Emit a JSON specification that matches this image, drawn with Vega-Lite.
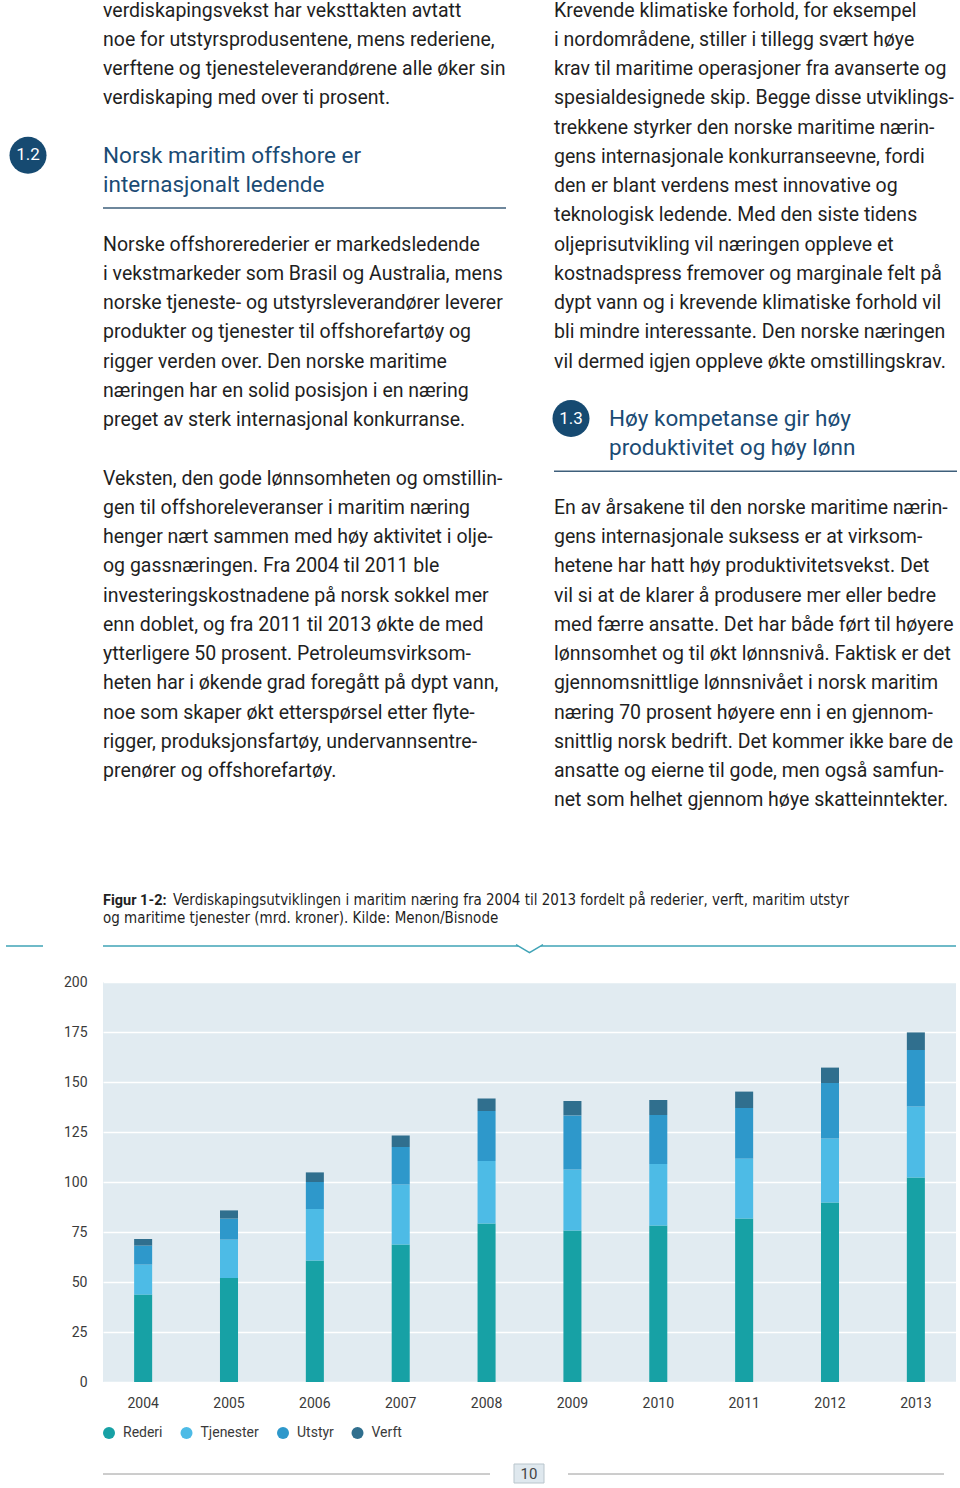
{
  "$schema": "https://vega.github.io/schema/vega-lite/v6.json",
  "background": "white",
  "padding": {"left": 5, "top": 0, "right": 0, "bottom": 0},
  "spacing": 14,
  "resolve": {"legend": {"color": "independent"}},
  "config": {"view": {"stroke": null}, "font": "Roboto"},
  "datasets": {
    "body": [
      {"col": "left", "line": 0, "text": "verdiskapingsvekst har veksttakten avtatt"},
      {"col": "left", "line": 1, "text": "noe for utstyrsprodusentene, mens rederiene,"},
      {"col": "left", "line": 2, "text": "verftene og tjenesteleverandørene alle øker sin"},
      {"col": "left", "line": 3, "text": "verdiskaping med over ti prosent."},
      {"col": "left", "line": 8, "text": "Norske offshorerederier er markedsledende"},
      {"col": "left", "line": 9, "text": "i vekstmarkeder som Brasil og Australia, mens"},
      {"col": "left", "line": 10, "text": "norske tjeneste- og utstyrsleverandører leverer"},
      {"col": "left", "line": 11, "text": "produkter og tjenester til offshorefartøy og"},
      {"col": "left", "line": 12, "text": "rigger verden over. Den norske maritime"},
      {"col": "left", "line": 13, "text": "næringen har en solid posisjon i en næring"},
      {"col": "left", "line": 14, "text": "preget av sterk internasjonal konkurranse."},
      {"col": "left", "line": 16, "text": "Veksten, den gode lønnsomheten og omstillin-"},
      {"col": "left", "line": 17, "text": "gen til offshoreleveranser i maritim næring"},
      {"col": "left", "line": 18, "text": "henger nært sammen med høy aktivitet i olje-"},
      {"col": "left", "line": 19, "text": "og gassnæringen. Fra 2004 til 2011 ble"},
      {"col": "left", "line": 20, "text": "investeringskostnadene på norsk sokkel mer"},
      {"col": "left", "line": 21, "text": "enn doblet, og fra 2011 til 2013 økte de med"},
      {"col": "left", "line": 22, "text": "ytterligere 50 prosent. Petroleumsvirksom-"},
      {"col": "left", "line": 23, "text": "heten har i økende grad foregått på dypt vann,"},
      {"col": "left", "line": 24, "text": "noe som skaper økt etterspørsel etter flyte-"},
      {"col": "left", "line": 25, "text": "rigger, produksjonsfartøy, undervannsentre-"},
      {"col": "left", "line": 26, "text": "prenører og offshorefartøy."},
      {"col": "right", "line": 0, "text": "Krevende klimatiske forhold, for eksempel"},
      {"col": "right", "line": 1, "text": "i nordområdene, stiller i tillegg svært høye"},
      {"col": "right", "line": 2, "text": "krav til maritime operasjoner fra avanserte og"},
      {"col": "right", "line": 3, "text": "spesialdesignede skip. Begge disse utviklings-"},
      {"col": "right", "line": 4, "text": "trekkene styrker den norske maritime nærin-"},
      {"col": "right", "line": 5, "text": "gens internasjonale konkurranseevne, fordi"},
      {"col": "right", "line": 6, "text": "den er blant verdens mest innovative og"},
      {"col": "right", "line": 7, "text": "teknologisk ledende. Med den siste tidens"},
      {"col": "right", "line": 8, "text": "oljeprisutvikling vil næringen oppleve et"},
      {"col": "right", "line": 9, "text": "kostnadspress fremover og marginale felt på"},
      {"col": "right", "line": 10, "text": "dypt vann og i krevende klimatiske forhold vil"},
      {"col": "right", "line": 11, "text": "bli mindre interessante. Den norske næringen"},
      {"col": "right", "line": 12, "text": "vil dermed igjen oppleve økte omstillingskrav."},
      {"col": "right", "line": 17, "text": "En av årsakene til den norske maritime nærin-"},
      {"col": "right", "line": 18, "text": "gens internasjonale suksess er at virksom-"},
      {"col": "right", "line": 19, "text": "hetene har hatt høy produktivitetsvekst. Det"},
      {"col": "right", "line": 20, "text": "vil si at de klarer å produsere mer eller bedre"},
      {"col": "right", "line": 21, "text": "med færre ansatte. Det har både ført til høyere"},
      {"col": "right", "line": 22, "text": "lønnsomhet og til økt lønnsnivå. Faktisk er det"},
      {"col": "right", "line": 23, "text": "gjennomsnittlige lønnsnivået i norsk maritim"},
      {"col": "right", "line": 24, "text": "næring 70 prosent høyere enn i en gjennom-"},
      {"col": "right", "line": 25, "text": "snittlig norsk bedrift. Det kommer ikke bare de"},
      {"col": "right", "line": 26, "text": "ansatte og eierne til gode, men også samfun-"},
      {"col": "right", "line": 27, "text": "net som helhet gjennom høye skatteinntekter."}
    ],
    "heads": [
      {"col": "left", "line": 5, "text": "Norsk maritim offshore er"},
      {"col": "left", "line": 6, "text": "internasjonalt ledende"},
      {"col": "right", "line": 14, "text": "Høy kompetanse gir høy"},
      {"col": "right", "line": 15, "text": "produktivitet og høy lønn"}
    ],
    "badges": [
      {"col": "left", "line": 5, "label": "1.2"},
      {"col": "right", "line": 14, "label": "1.3"}
    ],
    "hrules": [
      {"col": "left", "line": 6},
      {"col": "right", "line": 15}
    ],
    "capbold": [{"col": "left", "line": 0, "text": "Figur 1-2:"}],
    "caption": [
      {"col": "inline", "line": 0, "text": "Verdiskapingsutviklingen i maritim næring fra 2004 til 2013 fordelt på rederier, verft, maritim utstyr"},
      {"col": "left", "line": 1, "text": "og maritime tjenester (mrd. kroner). Kilde: Menon/Bisnode"}
    ],
    "caprule": [{"from": "start", "to": "end", "line": 1}],
    "chevron": [{"at": "center", "line": 1}],
    "bars": [
      {"year": "2004", "sector": "Rederi", "value": 43.7},
      {"year": "2004", "sector": "Tjenester", "value": 15.0},
      {"year": "2004", "sector": "Utstyr", "value": 9.5},
      {"year": "2004", "sector": "Verft", "value": 3.3},
      {"year": "2005", "sector": "Rederi", "value": 52.0},
      {"year": "2005", "sector": "Tjenester", "value": 19.2},
      {"year": "2005", "sector": "Utstyr", "value": 10.5},
      {"year": "2005", "sector": "Verft", "value": 4.1},
      {"year": "2006", "sector": "Rederi", "value": 60.8},
      {"year": "2006", "sector": "Tjenester", "value": 25.7},
      {"year": "2006", "sector": "Utstyr", "value": 13.5},
      {"year": "2006", "sector": "Verft", "value": 4.8},
      {"year": "2007", "sector": "Rederi", "value": 68.8},
      {"year": "2007", "sector": "Tjenester", "value": 29.9},
      {"year": "2007", "sector": "Utstyr", "value": 18.8},
      {"year": "2007", "sector": "Verft", "value": 5.7},
      {"year": "2008", "sector": "Rederi", "value": 79.2},
      {"year": "2008", "sector": "Tjenester", "value": 31.3},
      {"year": "2008", "sector": "Utstyr", "value": 25.0},
      {"year": "2008", "sector": "Verft", "value": 6.2},
      {"year": "2009", "sector": "Rederi", "value": 75.8},
      {"year": "2009", "sector": "Tjenester", "value": 30.5},
      {"year": "2009", "sector": "Utstyr", "value": 27.0},
      {"year": "2009", "sector": "Verft", "value": 7.2},
      {"year": "2010", "sector": "Rederi", "value": 78.3},
      {"year": "2010", "sector": "Tjenester", "value": 30.7},
      {"year": "2010", "sector": "Utstyr", "value": 24.5},
      {"year": "2010", "sector": "Verft", "value": 7.5},
      {"year": "2011", "sector": "Rederi", "value": 81.7},
      {"year": "2011", "sector": "Tjenester", "value": 30.0},
      {"year": "2011", "sector": "Utstyr", "value": 25.3},
      {"year": "2011", "sector": "Verft", "value": 8.2},
      {"year": "2012", "sector": "Rederi", "value": 89.8},
      {"year": "2012", "sector": "Tjenester", "value": 31.9},
      {"year": "2012", "sector": "Utstyr", "value": 27.8},
      {"year": "2012", "sector": "Verft", "value": 7.7},
      {"year": "2013", "sector": "Rederi", "value": 102.2},
      {"year": "2013", "sector": "Tjenester", "value": 35.5},
      {"year": "2013", "sector": "Utstyr", "value": 28.3},
      {"year": "2013", "sector": "Verft", "value": 8.8}
    ],
    "pagenum": [{"from": "start", "to": "end", "top": "top", "bottom": "bottom", "label": "10"}]
  },
  "vconcat": [
    {
      "width": 853,
      "height": 960,
      "resolve": {"scale": {"x": "independent", "y": "independent"}},
      "layer": [
        {
          "data": {"name": "body"},
          "mark": {"type": "text", "align": "left", "baseline": "alphabetic", "fontSize": 19.5, "font": "Roboto", "color": "#1f1f1f"},
          "encoding": {
            "x": {"field": "col", "type": "nominal", "scale": {"type": "point", "domain": ["left", "right"], "range": [0, 451], "padding": 0}, "axis": null},
            "y": {"field": "line", "type": "quantitative", "scale": {"domain": [0, 27], "range": [15.5, 805.25], "nice": false, "zero": false}, "axis": null},
            "text": {"field": "text"}
          }
        },
        {
          "data": {"name": "heads"},
          "mark": {"type": "text", "align": "left", "baseline": "alphabetic", "fontSize": 22.5, "font": "Roboto", "color": "#1b4b74"},
          "encoding": {
            "x": {"field": "col", "type": "nominal", "scale": {"type": "point", "domain": ["left", "right"], "range": [0, 506], "padding": 0}, "axis": null},
            "y": {"field": "line", "type": "quantitative", "scale": {"domain": [0, 27], "range": [15.5, 805.25], "nice": false, "zero": false}, "axis": null},
            "text": {"field": "text"}
          }
        },
        {
          "data": {"name": "badges"},
          "mark": {"type": "point", "shape": "circle", "filled": true, "size": 1369, "opacity": 1, "color": "#164a71", "yOffset": -7.5},
          "encoding": {
            "x": {"field": "col", "type": "nominal", "scale": {"type": "point", "domain": ["left", "right"], "range": [-75, 468], "padding": 0}, "axis": null},
            "y": {"field": "line", "type": "quantitative", "scale": {"domain": [0, 27], "range": [15.5, 805.25], "nice": false, "zero": false}, "axis": null}
          }
        },
        {
          "data": {"name": "badges"},
          "mark": {"type": "text", "align": "center", "baseline": "middle", "fontSize": 17, "font": "Roboto", "color": "white", "yOffset": -7.5},
          "encoding": {
            "x": {"field": "col", "type": "nominal", "scale": {"type": "point", "domain": ["left", "right"], "range": [-75, 468], "padding": 0}, "axis": null},
            "y": {"field": "line", "type": "quantitative", "scale": {"domain": [0, 27], "range": [15.5, 805.25], "nice": false, "zero": false}, "axis": null},
            "text": {"field": "label"}
          }
        },
        {
          "data": {"name": "hrules"},
          "mark": {"type": "rule", "color": "#3e5f7b", "strokeWidth": 1.5, "yOffset": 16, "x2Offset": 403},
          "encoding": {
            "x": {"field": "col", "type": "nominal", "scale": {"type": "point", "domain": ["left", "right"], "range": [0, 451], "padding": 0}, "axis": null},
            "x2": {"field": "col"},
            "y": {"field": "line", "type": "quantitative", "scale": {"domain": [0, 27], "range": [15.5, 805.25], "nice": false, "zero": false}, "axis": null}
          }
        },
        {
          "data": {"name": "capbold"},
          "mark": {"type": "text", "align": "left", "baseline": "alphabetic", "fontSize": 14.5, "fontWeight": "bold", "font": "Roboto", "color": "#1f1f1f"},
          "encoding": {
            "x": {"field": "col", "type": "nominal", "scale": {"type": "point", "domain": ["left", "inline"], "range": [0, 70], "padding": 0}, "axis": null},
            "y": {"field": "line", "type": "quantitative", "scale": {"domain": [0, 1], "range": [904, 922], "nice": false, "zero": false}, "axis": null},
            "text": {"field": "text"}
          }
        },
        {
          "data": {"name": "caption"},
          "mark": {"type": "text", "align": "left", "baseline": "alphabetic", "fontSize": 15, "font": "Liberation Sans Narrow, DejaVu Sans Condensed, Roboto", "color": "#1f1f1f"},
          "encoding": {
            "x": {"field": "col", "type": "nominal", "scale": {"type": "point", "domain": ["left", "inline"], "range": [0, 70], "padding": 0}, "axis": null},
            "y": {"field": "line", "type": "quantitative", "scale": {"domain": [0, 1], "range": [904, 922], "nice": false, "zero": false}, "axis": null},
            "text": {"field": "text"}
          }
        },
        {
          "data": {"name": "caprule"},
          "mark": {"type": "rule", "color": "#3fa3b6", "strokeWidth": 1.5, "yOffset": 23},
          "encoding": {
            "x": {"field": "from", "type": "nominal", "scale": {"type": "point", "domain": ["start", "end"], "range": [0, 853], "padding": 0}, "axis": null},
            "x2": {"field": "to"},
            "y": {"field": "line", "type": "quantitative", "scale": {"domain": [0, 1], "range": [904, 922], "nice": false, "zero": false}, "axis": null}
          }
        },
        {
          "data": {"name": "caprule"},
          "mark": {"type": "rule", "color": "#3fa3b6", "strokeWidth": 1.5, "yOffset": 23},
          "encoding": {
            "x": {"field": "from", "type": "nominal", "scale": {"type": "point", "domain": ["start", "end"], "range": [-97, -60], "padding": 0}, "axis": null},
            "x2": {"field": "to"},
            "y": {"field": "line", "type": "quantitative", "scale": {"domain": [0, 1], "range": [904, 922], "nice": false, "zero": false}, "axis": null}
          }
        },
        {
          "data": {"name": "chevron"},
          "mark": {"type": "point", "shape": "M-1,-0.1L0,0.5L1,-0.1", "size": 729, "fill": "white", "stroke": "#3fa3b6", "strokeWidth": 1.5, "opacity": 1, "yOffset": 23},
          "encoding": {
            "x": {"field": "at", "type": "nominal", "scale": {"type": "point", "domain": ["start", "center", "end"], "range": [0, 853], "padding": 0}, "axis": null},
            "y": {"field": "line", "type": "quantitative", "scale": {"domain": [0, 1], "range": [904, 922], "nice": false, "zero": false}, "axis": null}
          }
        }
      ]
    },
    {
      "width": 853,
      "height": 400,
      "view": {"fill": "#e1ebf1", "stroke": null},
      "data": {"name": "bars"},
      "mark": {"type": "bar"},
      "encoding": {
        "x": {
          "field": "year", "type": "ordinal",
          "scale": {"paddingInner": 0.79, "paddingOuter": 0.3625},
          "axis": {"title": null, "labelAngle": 0, "ticks": false, "tickSize": 0, "domain": false, "labelPadding": 14, "labelFontSize": 14, "labelColor": "#3a3a3a", "labelFont": "Roboto"}
        },
        "y": {
          "field": "value", "type": "quantitative", "stack": "zero",
          "scale": {"domain": [0, 200], "nice": false},
          "axis": {"title": null, "values": [0, 25, 50, 75, 100, 125, 150, 175, 200], "ticks": false, "tickSize": 0, "domain": false, "labelPadding": 16, "labelFontSize": 14, "labelColor": "#3a3a3a", "labelFont": "Roboto", "gridColor": "white", "gridWidth": 1.5, "gridOpacity": 1}
        },
        "color": {
          "field": "sector", "type": "nominal",
          "scale": {"domain": ["Rederi", "Tjenester", "Utstyr", "Verft"], "range": ["#17a1a5", "#4dbbe6", "#2e98cb", "#306f8e"]},
          "legend": {"title": null, "orient": "none", "legendX": -1, "legendY": 444, "direction": "horizontal", "symbolType": "circle", "symbolSize": 144, "symbolStrokeWidth": 0, "symbolOpacity": 1, "labelFontSize": 14, "labelColor": "#3a3a3a", "labelFont": "Roboto", "labelOffset": 7, "columnPadding": 16.5, "padding": 0}
        },
        "order": {"field": "sector", "sort": "ascending"}
      }
    },
    {
      "width": 853,
      "height": 30,
      "resolve": {"scale": {"x": "independent", "y": "independent"}},
      "layer": [
        {
          "data": {"name": "pagenum"},
          "mark": {"type": "rule", "color": "#9a9a9a", "strokeWidth": 1},
          "encoding": {
            "x": {"field": "from", "type": "nominal", "scale": {"type": "point", "domain": ["start", "end"], "range": [0, 387], "padding": 0}, "axis": null},
            "x2": {"field": "to"},
            "y": {"field": "top", "type": "nominal", "scale": {"type": "point", "domain": ["top", "bottom"], "range": [20, 40], "padding": 0}, "axis": null}
          }
        },
        {
          "data": {"name": "pagenum"},
          "mark": {"type": "rule", "color": "#9a9a9a", "strokeWidth": 1},
          "encoding": {
            "x": {"field": "from", "type": "nominal", "scale": {"type": "point", "domain": ["start", "end"], "range": [465, 841], "padding": 0}, "axis": null},
            "x2": {"field": "to"},
            "y": {"field": "top", "type": "nominal", "scale": {"type": "point", "domain": ["top", "bottom"], "range": [20, 40], "padding": 0}, "axis": null}
          }
        },
        {
          "data": {"name": "pagenum"},
          "mark": {"type": "rect", "fill": "#dfe8ee", "stroke": "#b9c5cc", "strokeWidth": 1},
          "encoding": {
            "x": {"field": "from", "type": "nominal", "scale": {"type": "point", "domain": ["start", "end"], "range": [411, 441], "padding": 0}, "axis": null},
            "x2": {"field": "to"},
            "y": {"field": "top", "type": "nominal", "scale": {"type": "point", "domain": ["top", "bottom"], "range": [10, 29], "padding": 0}, "axis": null},
            "y2": {"field": "bottom"}
          }
        },
        {
          "data": {"name": "pagenum"},
          "mark": {"type": "text", "align": "center", "baseline": "middle", "fontSize": 15, "font": "Roboto", "color": "#444444"},
          "encoding": {
            "x": {"field": "from", "type": "nominal", "scale": {"type": "point", "domain": ["start", "end"], "range": [426, 456], "padding": 0}, "axis": null},
            "y": {"field": "top", "type": "nominal", "scale": {"type": "point", "domain": ["top", "bottom"], "range": [20, 40], "padding": 0}, "axis": null},
            "text": {"field": "label"}
          }
        }
      ]
    }
  ]
}
